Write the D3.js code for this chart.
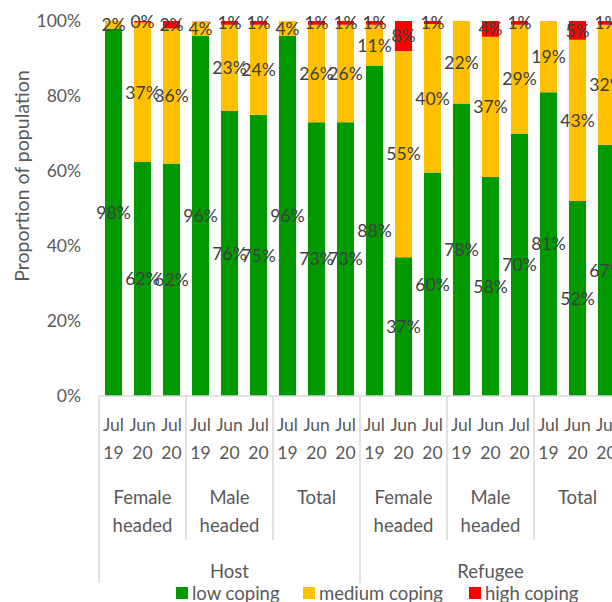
<!DOCTYPE html>
<html>
<head>
<meta charset="utf-8">
<script src="https://cdn.jsdelivr.net/npm/d3@7"></script>
<style>
  html, body { margin: 0; padding: 0; background: #fff; overflow: hidden; }
  svg { display: block; }
  text { font-family: Lato, "Open Sans", sans-serif; }
</style>
</head>
<body>
<svg id="chart" width="640" height="602"></svg>
<script>
// ---- data ----
const populations = ["Host", "Refugee"];
const groups = ["Female headed", "Male headed", "Total"];
const periods = ["Jul 19", "Jun 20", "Jul 20"];
const seriesNames = ["low coping", "medium coping", "high coping"];
const seriesColors = ["#009900", "#FFC000", "#FF0000"];
// order: Host FH, Host MH, Host Total, Refugee FH, Refugee MH, Refugee Total; each Jul19, Jun20, Jul20
const lowCoping    = [98, 62.4, 62, 96, 76, 75, 96, 73, 73, 88, 37, 59.6, 78, 58.4, 70, 81, 52, 67];
const mediumCoping = [2, 37.2, 36, 4, 23, 24, 4, 26, 26, 11, 55, 39.6, 22, 37.4, 29, 19, 43, 32];
const highCoping   = [null, 0.4, 2, null, 1, 1, null, 1, 1, 1, 8, 0.8, null, 4.2, 1, null, 5, 1];
const yTicks = [0, 20, 40, 60, 80, 100];

// ---- build table ----
const rows = [];
populations.forEach((p, pi) => groups.forEach((g, gi) => periods.forEach((d, di) => {
  const i = pi * 9 + gi * 3 + di;
  rows.push({ key: i, pop: p, group: g, period: d,
    low: lowCoping[i], medium: mediumCoping[i], high: highCoping[i] });
})));
const keys = ["low", "medium", "high"];

const svg = d3.select("#chart");
const x0 = 99, x1 = 621, yTop = 21, yBot = 396;

const x = d3.scaleBand().domain(rows.map(r => r.key)).range([x0, x1])
  .paddingInner(0.41).paddingOuter(0.205);
const step = x.step();
const y = d3.scaleLinear().domain([0, 100]).range([yBot, yTop]);

const stack = d3.stack().keys(keys).value((d, k) => d[k] == null ? 0 : d[k]);
const stacked = stack(rows);

// bars
stacked.forEach((s, si) => {
  svg.append("g").attr("fill", seriesColors[si])
    .selectAll("rect").data(s.filter(d => d.data[keys[si]] != null)).join("rect")
    .attr("x", d => x(d.data.key))
    .attr("width", x.bandwidth())
    .attr("y", d => y(d[1]))
    .attr("height", d => Math.max(0, y(d[0]) - y(d[1])));
});

// data labels
const fmt = d3.format(".0f");
stacked.forEach((s, si) => {
  svg.append("g").selectAll("text").data(s.filter(d => d.data[keys[si]] != null)).join("text")
    .attr("x", d => x(d.data.key) + x.bandwidth() / 2)
    .attr("y", d => y((d[0] + d[1]) / 2))
    .attr("dy", "0.36em")
    .attr("text-anchor", "middle")
    .attr("font-size", 17.5)
    .attr("fill", "#404040")
    .text(d => fmt(d.data[keys[si]]) + "%");
});

// y axis labels
const yAxis = d3.axisLeft(y).tickValues(yTicks).tickFormat(d => d + "%").tickSize(0).tickPadding(0);
const ya = svg.append("g").attr("transform", "translate(81,0)").call(yAxis);
ya.select(".domain").remove();
ya.selectAll("text").attr("font-size", 17.5).attr("fill", "#595959")
  .attr("font-family", "Lato, 'Open Sans', sans-serif");

// y axis title
svg.append("text")
  .attr("transform", "translate(29,176) rotate(-90)")
  .attr("text-anchor", "middle")
  .attr("font-size", 19.5)
  .attr("fill", "#595959")
  .text("Proportion of population");

// category axis
const axisColor = "#D9D9D9";
svg.append("line").attr("x1", x0).attr("x2", 640).attr("y1", yBot).attr("y2", yBot)
  .attr("stroke", axisColor).attr("stroke-width", 1.5);

// period labels
const pl = svg.append("g").selectAll("text").data(rows).join("text")
  .attr("text-anchor", "middle").attr("font-size", 17.5).attr("fill", "#595959");
pl.append("tspan").attr("x", d => x(d.key) + x.bandwidth() / 2).attr("y", 431).text(d => d.period.split(" ")[0]);
pl.append("tspan").attr("x", d => x(d.key) + x.bandwidth() / 2).attr("y", 459).text(d => d.period.split(" ")[1]);

// group labels
const groupRows = [];
populations.forEach((p, pi) => groups.forEach((g, gi) => groupRows.push({ pop: p, group: g, start: pi * 9 + gi * 3 })));
const gl = svg.append("g").selectAll("text").data(groupRows).join("text")
  .attr("text-anchor", "middle").attr("font-size", 18.5).attr("fill", "#595959");
gl.each(function(d) {
  const cx = x0 + (d.start + 1.5) * step;
  const words = d.group.split(" ");
  const t = d3.select(this);
  words.forEach((w, wi) => t.append("tspan").attr("x", cx).attr("y", 504 + wi * 28).text(w));
});

// population labels
svg.append("g").selectAll("text").data(populations).join("text")
  .attr("x", (d, i) => x0 + (i * 9 + 4.5) * step)
  .attr("y", 578)
  .attr("text-anchor", "middle").attr("font-size", 18.5).attr("fill", "#595959")
  .text(d => d);

// separators
const sep = svg.append("g").attr("stroke", axisColor).attr("stroke-width", 1.5);
groupRows.forEach(d => {
  const xx = x0 + d.start * step;
  const isPop = d.start % 9 === 0;
  sep.append("line").attr("x1", xx).attr("x2", xx).attr("y1", yBot).attr("y2", isPop ? 583 : 540);
});
sep.append("line").attr("x1", x1).attr("x2", x1).attr("y1", yBot).attr("y2", 583);

// legend
const legX = [176, 303, 469];
const leg = svg.append("g").selectAll("g").data(seriesNames).join("g")
  .attr("transform", (d, i) => `translate(${legX[i]},0)`);
leg.append("rect").attr("x", 0).attr("y", 587).attr("width", 12).attr("height", 12)
  .attr("fill", (d, i) => seriesColors[i]);
leg.append("text").attr("x", 16).attr("y", 600).attr("font-size", 18.5).attr("fill", "#595959").text(d => d);
</script>
</body>
</html>
